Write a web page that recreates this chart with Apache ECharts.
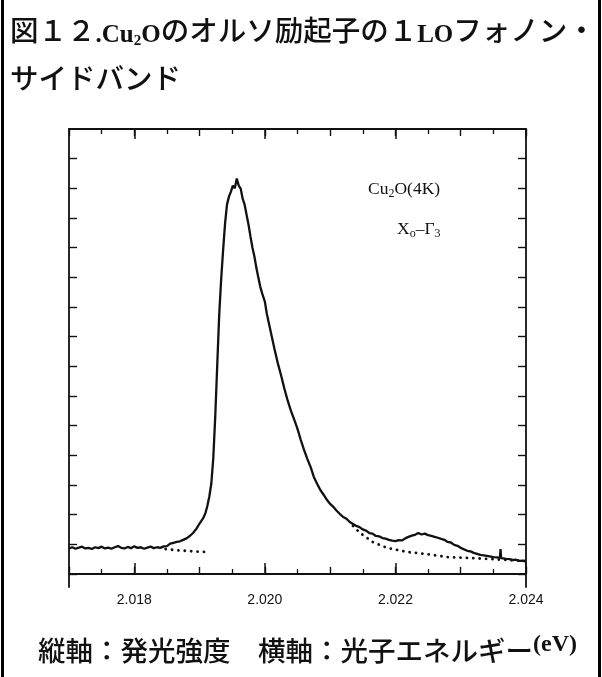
<!DOCTYPE html>
<html>
<head>
<meta charset="utf-8">
<title>Cu2O 1LO phonon sideband</title>
<script src="https://cdn.jsdelivr.net/npm/echarts@6/dist/echarts.min.js"></script>
<style>
html, body { margin: 0; padding: 0; background: #fff; }
#chart { width: 602px; height: 677px; }
</style>
</head>
<body>
<div id="chart"></div>
<script>
// photon energy (eV) / emission intensity (arb. units)
var energy = [
  2.01700, 2.01705, 2.01710, 2.01715, 2.01720, 2.01725, 2.01730, 2.01735, 2.01740, 2.01745,
  2.01750, 2.01755, 2.01760, 2.01765, 2.01770, 2.01775, 2.01780, 2.01785, 2.01790, 2.01795,
  2.01800, 2.01805, 2.01810, 2.01815, 2.01820, 2.01825, 2.01830, 2.01835, 2.01840, 2.01845,
  2.01850, 2.01855, 2.01860, 2.01865, 2.01870, 2.01875, 2.01880, 2.01885, 2.01890, 2.01895,
  2.01900, 2.01903, 2.01906, 2.01909, 2.01912, 2.01915, 2.01918, 2.01921, 2.01924, 2.01927,
  2.01930, 2.01933, 2.01936, 2.01939, 2.01942, 2.01945, 2.01948, 2.01951, 2.01954, 2.01957,
  2.01960, 2.01963, 2.01966, 2.01969, 2.01972, 2.01975, 2.01978, 2.01981, 2.01984, 2.01987,
  2.01990, 2.01993, 2.01996, 2.02000, 2.02003, 2.02006, 2.02010, 2.02015, 2.02020, 2.02025,
  2.02030, 2.02035, 2.02040, 2.02045, 2.02050, 2.02055, 2.02060, 2.02065, 2.02070, 2.02075,
  2.02080, 2.02085, 2.02090, 2.02095, 2.02100, 2.02105, 2.02110, 2.02115, 2.02120, 2.02125,
  2.02130, 2.02140, 2.02145, 2.02150, 2.02155, 2.02160, 2.02165, 2.02170, 2.02175, 2.02180,
  2.02185, 2.02190, 2.02195, 2.02200, 2.02205, 2.02210, 2.02215, 2.02220, 2.02225, 2.02230,
  2.02235, 2.02240, 2.02245, 2.02250, 2.02255, 2.02260, 2.02265, 2.02270, 2.02275, 2.02280,
  2.02285, 2.02290, 2.02295, 2.02300, 2.02310, 2.02315, 2.02320, 2.02330, 2.02340, 2.02350,
  2.02355, 2.02360, 2.02361, 2.02362, 2.02370, 2.02375, 2.02380, 2.02385, 2.02390, 2.02395,
  2.02400
];
var intensity = [
  0.86, 0.90, 0.85, 0.89, 0.92, 0.86, 0.88, 0.84, 0.90, 0.87,
  0.92, 0.86, 0.89, 0.85, 0.90, 0.94, 0.88, 0.86, 0.91, 0.87,
  0.93, 0.88, 0.90, 0.85, 0.89, 0.92, 0.87, 0.90, 0.88, 0.93,
  0.94, 1.02, 1.05, 1.08, 1.10, 1.15, 1.20, 1.28, 1.38, 1.52,
  1.70, 1.80, 1.90, 2.05, 2.30, 2.62, 3.05, 3.90, 5.30, 7.00,
  8.70, 9.90, 10.90, 11.80, 12.45, 12.72, 12.89, 13.09, 13.00, 13.33,
  13.09, 12.99, 12.65, 12.45, 12.11, 11.77, 11.37, 11.00, 10.70, 10.32,
  9.99, 9.68, 9.45, 9.18, 8.77, 8.47, 8.06, 7.56, 7.09, 6.68,
  6.24, 5.84, 5.50, 5.20, 4.89, 4.52, 4.18, 3.88, 3.61, 3.27,
  3.04, 2.83, 2.67, 2.50, 2.36, 2.26, 2.13, 2.02, 1.92, 1.86,
  1.75, 1.62, 1.58, 1.50, 1.46, 1.38, 1.36, 1.28, 1.27, 1.21,
  1.19, 1.15, 1.12, 1.11, 1.14, 1.13, 1.20, 1.25, 1.29, 1.32,
  1.38, 1.33, 1.36, 1.31, 1.28, 1.25, 1.22, 1.18, 1.15, 1.08,
  1.06, 0.98, 0.95, 0.88, 0.78, 0.76, 0.71, 0.64, 0.61, 0.57,
  0.56, 0.54, 0.84, 0.53, 0.51, 0.50, 0.47, 0.48, 0.44, 0.45,
  0.43
];

// dotted background (fit) curves
var bgLeftEnergy = [2.01848, 2.01860, 2.01870, 2.01880, 2.01890, 2.01900, 2.01912];
var bgLeftValue = [0.84, 0.81, 0.79, 0.78, 0.76, 0.75, 0.74];
var bgRightEnergy = [2.02135, 2.02146, 2.02165, 2.02187, 2.02218, 2.02248, 2.02279, 2.02310, 2.02340, 2.02371, 2.02394, 2.02400];
var bgRightValue = [1.62, 1.38, 1.08, 0.88, 0.74, 0.67, 0.57, 0.54, 0.51, 0.47, 0.44, 0.43];

var xLabels = [2.018, 2.020, 2.022, 2.024];
var yTicks = [0, 1, 2, 3, 4, 5, 6, 7, 8, 9, 10, 11, 12, 13, 14];

function pairs(xs, ys) {
  return xs.map(function (x, i) { return [x, ys[i]]; });
}

var jpFont = '"Noto Sans CJK JP", sans-serif';
var serif = '"Liberation Serif", serif';
var black = '#111';

function xAxisBase(pos) {
  return {
    type: 'value', min: 2.017, max: 2.024, position: pos,
    splitLine: { show: false },
    axisLine: { show: false },
    axisLabel: { show: false }
  };
}

var xAxes = [];
// bottom: long ticks + labels
var a0 = xAxisBase('bottom');
a0.axisLine = { show: true, lineStyle: { color: black, width: 1.8 } };
a0.axisTick = { show: true, inside: true, length: 11, customValues: xLabels, lineStyle: { color: black, width: 1.5 } };
a0.axisLabel = {
  show: true, customValues: xLabels, margin: 6, color: black,
  fontFamily: '"Liberation Sans", sans-serif', fontSize: 14,
  formatter: function (v) { return v.toFixed(3); }
};
xAxes.push(a0);
// bottom: 0.001 ticks with 0.0005 minor
var a1 = xAxisBase('bottom');
a1.interval = 0.001;
a1.axisTick = { show: true, inside: true, length: 7, lineStyle: { color: black, width: 1.4 } };
a1.minorTick = { show: true, splitNumber: 2, length: 5, lineStyle: { color: black, width: 1.3 } };
xAxes.push(a1);
// top mirror
var a2 = xAxisBase('top');
a2.axisLine = { show: true, lineStyle: { color: black, width: 1.8 } };
a2.interval = 0.001;
a2.axisTick = { show: true, inside: true, length: 7, lineStyle: { color: black, width: 1.4 } };
a2.minorTick = { show: true, splitNumber: 2, length: 5, lineStyle: { color: black, width: 1.3 } };
xAxes.push(a2);
var a3 = xAxisBase('top');
a3.axisTick = { show: true, inside: true, length: 10, customValues: xLabels, lineStyle: { color: black, width: 1.5 } };
xAxes.push(a3);

function yAxis(pos) {
  return {
    type: 'value', min: -0.44, max: 15, position: pos,
    splitLine: { show: false },
    axisLabel: { show: false },
    axisLine: { show: true, lineStyle: { color: black, width: 1.8 } },
    axisTick: { show: true, inside: true, length: 8, customValues: yTicks, lineStyle: { color: black, width: 1.4 } }
  };
}

var chart = echarts.init(document.getElementById('chart'), null, { renderer: 'canvas' });
chart.setOption({
  animation: false,
  backgroundColor: '#fff',
  grid: { left: 69, right: 76, top: 129, bottom: 90 },
  xAxis: xAxes,
  yAxis: [yAxis('left'), yAxis('right')],
  series: [
    {
      type: 'line', data: pairs(energy, intensity), showSymbol: false, z: 3,
      lineStyle: { color: black, width: 2.3 }
    },
    {
      type: 'line', data: pairs(bgLeftEnergy, bgLeftValue), showSymbol: false, z: 2,
      lineStyle: { color: black, width: 2.8, type: [0.1, 6.3], cap: 'round' }
    },
    {
      type: 'line', data: pairs(bgRightEnergy, bgRightValue), showSymbol: false, z: 2,
      lineStyle: { color: black, width: 2.8, type: [0.1, 6.3], cap: 'round' }
    }
  ],
  graphic: [
    { type: 'line', shape: { x1: 2.5, y1: 0, x2: 2.5, y2: 677 }, style: { stroke: '#000', lineWidth: 3 } },
    { type: 'line', shape: { x1: 599.5, y1: 0, x2: 599.5, y2: 677 }, style: { stroke: '#000', lineWidth: 3 } },
    {
      type: 'text', left: 10, top: 16,
      style: {
        text: '{j|図１２}{l|.Cu}{s|2}{l|O}{j|のオルソ励起子の１}{l|LO}{j|フォノン・}',
        rich: {
          j: { fontFamily: jpFont, fontSize: 28.5, fontWeight: 500, fill: black, lineHeight: 36 },
          l: { fontFamily: serif, fontSize: 25, fontWeight: 'bold', fill: black, verticalAlign: 'bottom', lineHeight: 36 },
          s: { fontFamily: serif, fontSize: 15, fontWeight: 'bold', fill: black, verticalAlign: 'bottom', lineHeight: 31 }
        }
      }
    },
    {
      type: 'text', left: 10, top: 64,
      style: { text: 'サイドバンド', fontFamily: jpFont, fontSize: 28.5, fontWeight: 500, fill: black }
    },
    {
      type: 'text', left: 368, top: 180,
      style: {
        text: '{n|Cu}{s|2}{n|O(4K)}',
        rich: {
          n: { fontFamily: serif, fontSize: 17.5, fill: black, lineHeight: 22 },
          s: { fontFamily: serif, fontSize: 12, fill: black, verticalAlign: 'bottom', lineHeight: 18 }
        }
      }
    },
    {
      type: 'text', left: 397, top: 220,
      style: {
        text: '{n|X}{s|o}{n|–Γ}{s|3}',
        rich: {
          n: { fontFamily: serif, fontSize: 17.5, fill: black, lineHeight: 22 },
          s: { fontFamily: serif, fontSize: 12, fill: black, verticalAlign: 'bottom', lineHeight: 18 }
        }
      }
    },
    {
      type: 'text', left: 38, top: 633,
      style: {
        text: '{j|縦軸：発光強度　横軸：光子エネルギー}{e|(eV)}',
        rich: {
          j: { fontFamily: jpFont, fontSize: 27.5, fontWeight: 500, fill: black, lineHeight: 36 },
          e: { fontFamily: serif, fontSize: 24, fontWeight: 'bold', fill: black, verticalAlign: 'top', lineHeight: 28 }
        }
      }
    }
  ]
});
</script>
</body>
</html>
